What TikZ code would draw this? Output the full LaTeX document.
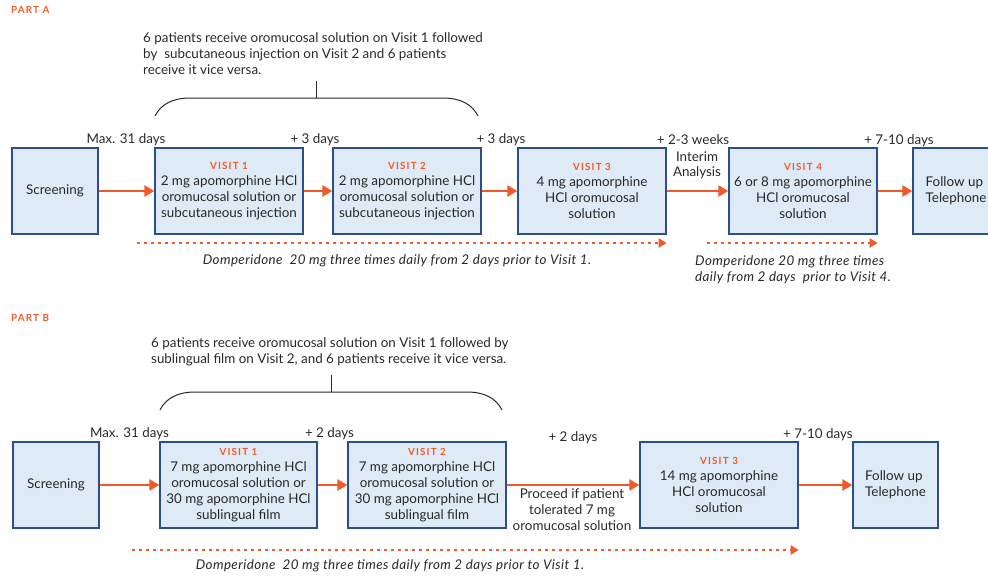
\documentclass[tikz,border=0pt]{standalone}
\usepackage{fontspec}
\setmainfont{Lato}
\newfontfamily\headfont[LetterSpace=12]{Lato}
\newfontfamily\domfont[LetterSpace=3]{Lato}
\usetikzlibrary{arrows.meta}
\definecolor{trialorange}{RGB}{240,90,40}
\definecolor{boxblue}{RGB}{44,78,138}
\definecolor{boxfill}{RGB}{222,234,246}
\definecolor{textgray}{RGB}{40,40,40}
\newcommand{\visithead}[1]{{\color{trialorange}\headfont\bfseries\fontsize{9.8}{10}\selectfont #1}}

\tikzset{
  visitbox/.style={draw=boxblue, fill=boxfill, line width=1.3pt, minimum height=86pt, align=center, inner sep=2pt, text=textgray},
  flowarrow/.style={trialorange, line width=2.6pt, -{Triangle[length=10pt,width=11pt]}},
  domarrow/.style={trialorange, line width=2pt, dash pattern=on 2.5pt off 4.5pt, -{Triangle[length=8pt,width=9pt]}},
  daylabel/.style={text=textgray},
  parthead/.style={text=trialorange, inner sep=0pt, font=\headfont\bfseries\fontsize{9.8}{10}\selectfont},
  note/.style={text=textgray, align=left, inner sep=0pt},
  domnote/.style={text=textgray, font=\domfont\fontsize{13.4}{16}\selectfont\itshape},
  bracket/.style={textgray, line width=1pt},
}

\begin{document}
\begin{tikzpicture}[x=1pt, y=-1pt, font=\fontsize{13.4}{16}\selectfont]
    \useasboundingbox (0,0) rectangle (988,578);

    % Part A
    \node[parthead, anchor=west] (partA) at (11,10) {PART A};
    \node[note, anchor=west] (crossA) at (143,54) {6 patients receive oromucosal solution on Visit 1 followed\\by\ \ subcutaneous injection on Visit 2 and 6 patients\\receive it vice versa.};

    % Crossover bracket
    \coordinate (braceA) at (316,98);
    \draw[bracket] (155,116) .. controls (161,104) and (173,98) .. (190,98) -- (443,98) .. controls (460,98) and (472,104) .. (478,116);
    \draw[bracket] (braceA) -- (316,81);

    % Visits
    \node[visitbox, minimum width=86pt] (scrA) at (55,191) {Screening};
    \node[visitbox, minimum width=148pt] (v1A) at (229,191) {\visithead{VISIT 1}\\2 mg apomorphine HCl\\oromucosal solution or\\subcutaneous injection};
    \node[visitbox, minimum width=148pt] (v2A) at (407,191) {\visithead{VISIT 2}\\2 mg apomorphine HCl\\oromucosal solution or\\subcutaneous injection};
    \node[visitbox, minimum width=148pt] (v3A) at (592,191) {\visithead{VISIT 3}\\4 mg apomorphine\\HCl oromucosal\\solution};
    \node[visitbox, minimum width=148pt] (v4A) at (803,191) {\visithead{VISIT 4}\\6 or 8 mg apomorphine\\HCl oromucosal\\solution};
    \node[visitbox, minimum width=86pt, align=left] (fupA) at (956,191) {Follow up\\Telephone};

    \draw[flowarrow] (scrA) -- (v1A);
    \draw[flowarrow] (v1A) -- (v2A);
    \draw[flowarrow] (v2A) -- (v3A);
    \draw[flowarrow] (v3A) -- (v4A);
    \draw[flowarrow] (v4A) -- (fupA);

    % Time between visits
    \node[daylabel] (maxA) at (126,140) {Max. 31 days};
    \node[daylabel] (d3A) at (315,140) {+ 3 days};
    \node[daylabel] (d3bA) at (501,140) {+ 3 days};
    \node[daylabel] (wkA) at (693,140) {+ 2-3 weeks};
    \node[daylabel, align=center, font=\fontsize{13.4}{15}\selectfont] (interim) at (697,165) {Interim\\Analysis};
    \node[daylabel] (d7A) at (899,141) {+ 7-10 days};

    % Domperidone
    \coordinate (domA) at (137,243);
    \draw[domarrow] (domA) -- (domA -| v3A.east);
    \coordinate (domA4) at (707,243);
    \draw[domarrow] (domA4) -- (domA4 -| v4A.east);
    \node[domnote] (domtxtA) at (397,261) {Domperidone\ \ 20 mg three times daily from 2 days prior to Visit 1.};
    \node[domnote, align=left, anchor=west, inner sep=0pt] (domtxtA4) at (695,270) {Domperidone 20 mg three times\\daily from 2 days\ \ prior to Visit 4.};

    % Part B
    \node[parthead, anchor=west] (partB) at (11,318) {PART B};
    \node[note, anchor=west] (crossB) at (151,352) {6 patients receive oromucosal solution on Visit 1 followed by\\sublingual film on Visit 2, and 6 patients receive it vice versa.};

    % Crossover bracket
    \coordinate (braceB) at (331,392);
    \draw[bracket] (160,410) .. controls (166,398) and (178,392) .. (195,392) -- (467,392) .. controls (484,392) and (496,398) .. (502,410);
    \draw[bracket] (braceB) -- (331,375);

    % Visits
    \node[visitbox, minimum width=86pt] (scrB) at (56,485) {Screening};
    \node[visitbox, minimum width=157pt] (v1B) at (238.5,485) {\visithead{VISIT 1}\\7 mg apomorphine HCl\\oromucosal solution or\\30 mg apomorphine HCl\\sublingual film};
    \node[visitbox, minimum width=158pt] (v2B) at (427,485) {\visithead{VISIT 2}\\7 mg apomorphine HCl\\oromucosal solution or\\30 mg apomorphine HCl\\sublingual film};
    \node[visitbox, minimum width=158pt] (v3B) at (719,485) {\visithead{VISIT 3}\\14 mg apomorphine\\HCl oromucosal\\solution};
    \node[visitbox, minimum width=85pt, align=left] (fupB) at (895.5,485) {Follow up\\Telephone};

    \draw[flowarrow] (scrB) -- (v1B);
    \draw[flowarrow] (v1B) -- (v2B);
    \draw[flowarrow] (v2B) -- (v3B);
    \draw[flowarrow] (v3B) -- (fupB);

    % Time between visits
    \node[daylabel] (maxB) at (129.5,434) {Max. 31 days};
    \node[daylabel] (d2B) at (329.5,434) {+ 2 days};
    \node[daylabel] (d2bB) at (573,438) {+ 2 days};
    \node[daylabel, align=center] (proceed) at (572,510) {Proceed if patient\\tolerated 7 mg\\oromucosal solution};
    \node[daylabel] (d7B) at (818,435) {+ 7-10 days};

    % Domperidone
    \coordinate (domB) at (132,550);
    \draw[domarrow] (domB) -- (domB -| v3B.east);
    \node[domnote] (domtxtB) at (390,566) {Domperidone\ \ 20 mg three times daily from 2 days prior to Visit 1.};
\end{tikzpicture}
\end{document}
